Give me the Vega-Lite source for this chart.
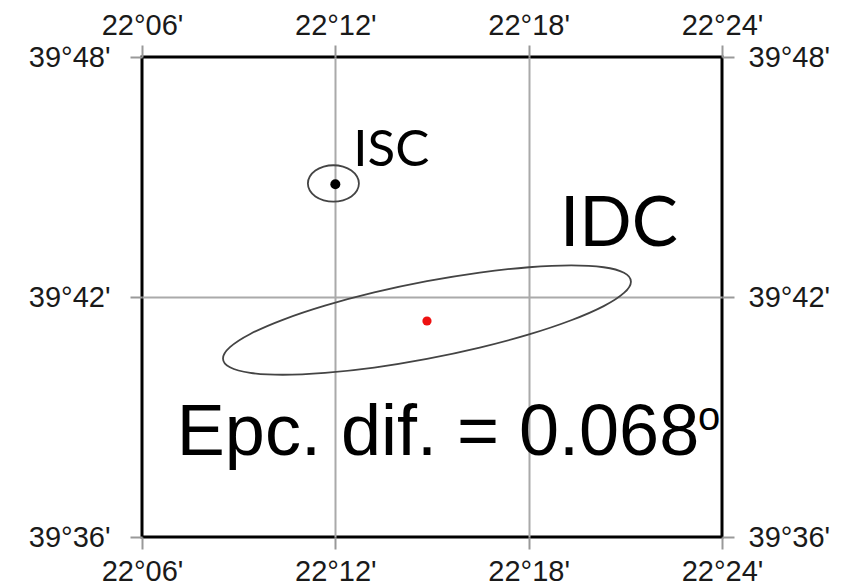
{
  "$schema": "https://vega.github.io/schema/vega-lite/v6.json",
  "width": 580,
  "height": 480,
  "autosize": "none",
  "padding": {"left": 142, "top": 57, "right": 124, "bottom": 48},
  "background": "white",
  "config": {
    "view": {"stroke": "#000000", "strokeWidth": 3},
    "axis": {
      "labelFont": "Liberation Sans",
      "labelFontSize": 29,
      "labelColor": "#1a1a1a",
      "tickColor": "#999999",
      "tickWidth": 2,
      "tickSize": 12,
      "domain": false,
      "title": null,
      "labelFlush": false,
      "labelOverlap": false,
      "gridColor": "#aaaaaa",
      "gridWidth": 2
    }
  },
  "datasets": {
    "ellipses": [
      {"name": "ISC", "i": 0, "lon": 22.2122, "lat": 39.7473},
      {"name": "ISC", "i": 1, "lon": 22.2112, "lat": 39.7502},
      {"name": "ISC", "i": 2, "lon": 22.2083, "lat": 39.7527},
      {"name": "ISC", "i": 3, "lon": 22.2040, "lat": 39.7543},
      {"name": "ISC", "i": 4, "lon": 22.1990, "lat": 39.7549},
      {"name": "ISC", "i": 5, "lon": 22.1940, "lat": 39.7543},
      {"name": "ISC", "i": 6, "lon": 22.1897, "lat": 39.7527},
      {"name": "ISC", "i": 7, "lon": 22.1868, "lat": 39.7502},
      {"name": "ISC", "i": 8, "lon": 22.1858, "lat": 39.7473},
      {"name": "ISC", "i": 9, "lon": 22.1868, "lat": 39.7444},
      {"name": "ISC", "i": 10, "lon": 22.1897, "lat": 39.7419},
      {"name": "ISC", "i": 11, "lon": 22.1940, "lat": 39.7403},
      {"name": "ISC", "i": 12, "lon": 22.1990, "lat": 39.7397},
      {"name": "ISC", "i": 13, "lon": 22.2040, "lat": 39.7403},
      {"name": "ISC", "i": 14, "lon": 22.2083, "lat": 39.7419},
      {"name": "ISC", "i": 15, "lon": 22.2112, "lat": 39.7444},
      {"name": "IDC", "i": 0, "lon": 22.3529, "lat": 39.7064},
      {"name": "IDC", "i": 1, "lon": 22.3493, "lat": 39.7101},
      {"name": "IDC", "i": 2, "lon": 22.3388, "lat": 39.7124},
      {"name": "IDC", "i": 3, "lon": 22.3220, "lat": 39.7132},
      {"name": "IDC", "i": 4, "lon": 22.3002, "lat": 39.7124},
      {"name": "IDC", "i": 5, "lon": 22.2747, "lat": 39.7102},
      {"name": "IDC", "i": 6, "lon": 22.2474, "lat": 39.7066},
      {"name": "IDC", "i": 7, "lon": 22.2201, "lat": 39.7019},
      {"name": "IDC", "i": 8, "lon": 22.1946, "lat": 39.6964},
      {"name": "IDC", "i": 9, "lon": 22.1728, "lat": 39.6905},
      {"name": "IDC", "i": 10, "lon": 22.1560, "lat": 39.6846},
      {"name": "IDC", "i": 11, "lon": 22.1455, "lat": 39.6791},
      {"name": "IDC", "i": 12, "lon": 22.1419, "lat": 39.6744},
      {"name": "IDC", "i": 13, "lon": 22.1455, "lat": 39.6707},
      {"name": "IDC", "i": 14, "lon": 22.1560, "lat": 39.6684},
      {"name": "IDC", "i": 15, "lon": 22.1728, "lat": 39.6676},
      {"name": "IDC", "i": 16, "lon": 22.1946, "lat": 39.6684},
      {"name": "IDC", "i": 17, "lon": 22.2201, "lat": 39.6706},
      {"name": "IDC", "i": 18, "lon": 22.2474, "lat": 39.6742},
      {"name": "IDC", "i": 19, "lon": 22.2747, "lat": 39.6789},
      {"name": "IDC", "i": 20, "lon": 22.3002, "lat": 39.6844},
      {"name": "IDC", "i": 21, "lon": 22.3220, "lat": 39.6903},
      {"name": "IDC", "i": 22, "lon": 22.3388, "lat": 39.6962},
      {"name": "IDC", "i": 23, "lon": 22.3493, "lat": 39.7017}
    ],
    "centers": [
      {"name": "ISC", "lon": 22.2, "lat": 39.747},
      {"name": "IDC", "lon": 22.2474, "lat": 39.69}
    ],
    "labels": [
      {"kind": "isc", "label": "ISC", "lon": 22.2093, "lat": 39.7544},
      {"kind": "idc", "label": "IDC", "lon": 22.3162, "lat": 39.7211},
      {"kind": "epc", "label": "Epc. dif. = 0.068", "lon": 22.2531, "lat": 39.6342},
      {"kind": "sup", "label": "o", "lon": 22.3876, "lat": 39.6446}
    ]
  },
  "layer": [
    {
      "data": {"name": "ellipses"},
      "mark": {"type": "line", "interpolate": "cardinal-closed", "stroke": "#444444", "strokeWidth": 1.8},
      "encoding": {
        "x": {
          "field": "lon", "type": "quantitative",
          "scale": {"domain": [22.1, 22.4], "nice": false, "zero": false},
          "axis": {
            "orient": "bottom",
            "values": [22.1, 22.2, 22.3, 22.4],
            "labelPadding": 8,
            "grid": true,
            "gridOpacity": {"condition": {"test": "datum.value < 22.15 || datum.value > 22.35", "value": 0}, "value": 1},
            "labelExpr": "'22°' + (round((datum.value - 22) * 60) < 10 ? '0' : '') + round((datum.value - 22) * 60) + \"'\""
          }
        },
        "y": {
          "field": "lat", "type": "quantitative",
          "scale": {"domain": [39.6, 39.8], "nice": false, "zero": false},
          "axis": {
            "orient": "left",
            "values": [39.6, 39.7, 39.8],
            "labelPadding": 20,
            "grid": true,
            "gridOpacity": {"condition": {"test": "datum.value < 39.65 || datum.value > 39.75", "value": 0}, "value": 1},
            "labelExpr": "'39°' + round((datum.value - 39) * 60) + \"'\""
          }
        },
        "detail": {"field": "name"},
        "order": {"field": "i", "type": "quantitative"}
      }
    },
    {
      "data": {"name": "centers"},
      "mark": {"type": "point", "filled": true, "shape": "circle", "opacity": 1},
      "encoding": {
        "x": {
          "field": "lon", "type": "quantitative",
          "scale": {"domain": [22.1, 22.4], "nice": false, "zero": false},
          "axis": {
            "orient": "top",
            "values": [22.1, 22.2, 22.3, 22.4],
            "labelPadding": 5,
            "grid": false,
            "labelExpr": "'22°' + (round((datum.value - 22) * 60) < 10 ? '0' : '') + round((datum.value - 22) * 60) + \"'\""
          }
        },
        "y": {
          "field": "lat", "type": "quantitative",
          "scale": {"domain": [39.6, 39.8], "nice": false, "zero": false},
          "axis": {
            "orient": "right",
            "values": [39.6, 39.7, 39.8],
            "labelPadding": 14,
            "grid": false,
            "labelExpr": "'39°' + round((datum.value - 39) * 60) + \"'\""
          }
        },
        "color": {"field": "name", "type": "nominal", "scale": {"domain": ["ISC", "IDC"], "range": ["#000000", "#ee1111"]}, "legend": null},
        "size": {"field": "name", "type": "nominal", "scale": {"domain": ["ISC", "IDC"], "range": [100, 85]}, "legend": null}
      }
    },
    {
      "data": {"name": "labels"},
      "transform": [{"filter": "datum.kind == 'isc'"}],
      "mark": {"type": "text", "font": "Lato", "fontSize": 51, "align": "left", "baseline": "alphabetic", "color": "#000000"},
      "encoding": {
        "x": {"field": "lon", "type": "quantitative", "scale": {"domain": [22.1, 22.4], "nice": false, "zero": false}, "axis": null},
        "y": {"field": "lat", "type": "quantitative", "scale": {"domain": [39.6, 39.8], "nice": false, "zero": false}, "axis": null},
        "text": {"field": "label"}
      }
    },
    {
      "data": {"name": "labels"},
      "transform": [{"filter": "datum.kind == 'idc'"}],
      "mark": {"type": "text", "font": "Lato", "fontSize": 69, "align": "left", "baseline": "alphabetic", "color": "#000000"},
      "encoding": {
        "x": {"field": "lon", "type": "quantitative", "scale": {"domain": [22.1, 22.4], "nice": false, "zero": false}, "axis": null},
        "y": {"field": "lat", "type": "quantitative", "scale": {"domain": [39.6, 39.8], "nice": false, "zero": false}, "axis": null},
        "text": {"field": "label"}
      }
    },
    {
      "data": {"name": "labels"},
      "transform": [{"filter": "datum.kind == 'epc'"}],
      "mark": {"type": "text", "font": "Liberation Sans", "fontSize": 72, "align": "center", "baseline": "alphabetic", "color": "#000000"},
      "encoding": {
        "x": {"field": "lon", "type": "quantitative", "scale": {"domain": [22.1, 22.4], "nice": false, "zero": false}, "axis": null},
        "y": {"field": "lat", "type": "quantitative", "scale": {"domain": [39.6, 39.8], "nice": false, "zero": false}, "axis": null},
        "text": {"field": "label"}
      }
    },
    {
      "data": {"name": "labels"},
      "transform": [{"filter": "datum.kind == 'sup'"}],
      "mark": {"type": "text", "font": "Liberation Sans", "fontSize": 40, "align": "left", "baseline": "alphabetic", "color": "#000000"},
      "encoding": {
        "x": {"field": "lon", "type": "quantitative", "scale": {"domain": [22.1, 22.4], "nice": false, "zero": false}, "axis": null},
        "y": {"field": "lat", "type": "quantitative", "scale": {"domain": [39.6, 39.8], "nice": false, "zero": false}, "axis": null},
        "text": {"field": "label"}
      }
    }
  ],
  "resolve": {"axis": {"x": "independent", "y": "independent"}}
}
